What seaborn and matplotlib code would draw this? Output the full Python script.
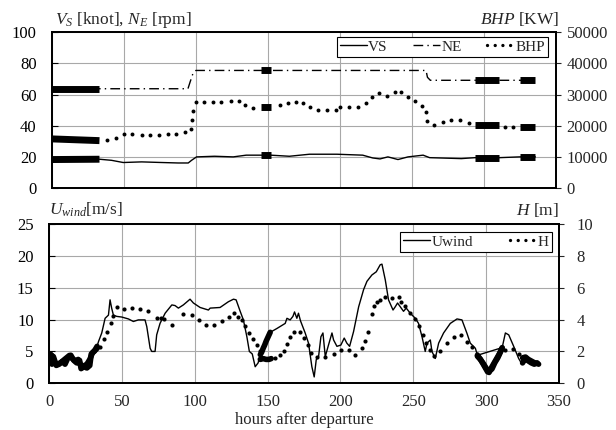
import matplotlib
matplotlib.use("Agg")
import matplotlib.pyplot as plt
from matplotlib.lines import Line2D
import seaborn as sns

# ---- upper panel: ship speed, engine rpm, brake power (hours after departure)
vs_t = [0, 33, 41.4, 49.5, 62.3, 76.2, 87.7, 94.7, 97, 100.5, 113, 126, 135, 145, 152,
        165, 179, 198, 216, 223, 228, 233.5, 240.5, 247.5, 258, 262.5, 284.5, 294, 311,
        325, 336]
vs_v = [18.4, 18.6, 17.9, 16.5, 16.9, 16.5, 16.2, 16.2, 17.9, 20.1, 20.5, 20.1, 21.2, 21.2,
        21.2, 20.5, 21.8, 21.8, 21.2, 19.4, 18.8, 20.1, 18.4, 20.1, 21.2, 19.6, 19.0, 19.6,
        19.6, 20.1, 20.1]

ne_t = [0, 33, 94.5, 96, 98, 100, 145, 152, 260, 261, 263, 294, 311, 325, 336]
ne_v = [63.7, 63.7, 63.7, 68, 73.5, 75.4, 75.4, 75.4, 75.4, 71, 69.1, 69.1, 69.1, 69.1, 69.1]

bhp_t = [38, 44.2, 49.8, 55.8, 62.3, 68.1, 74.3, 80.3, 86.1, 92.4, 96.3, 97.2, 98.1, 99.8,
         105.6, 111.6, 117.8, 124.1, 129.9, 134, 139.8, 158.3, 164.1, 169.4, 174.5, 179.2,
         185.2, 191.2, 197.2, 200, 206.5, 212.5, 218.1, 222.5, 227.3, 233.1, 238.7, 242.4,
         247.5, 252.5, 257.4, 259.7, 260.9, 265.5, 271.8, 277.5, 283.8, 289.8, 314.6, 320.4]
bhp_v = [15600, 16150, 17400, 17300, 17100, 17100, 16900, 17500, 17400, 17950, 19100, 22000,
         24800, 27750, 27750, 27500, 27500, 27900, 27900, 26600, 25550, 26600, 27250, 27550,
         27250, 25850, 25100, 25000, 25200, 25850, 26150, 26050, 27350, 29250, 30350, 29600,
         30750, 30750, 29250, 27900, 26300, 24350, 21450, 20400, 21150, 21700, 21700, 20950,
         19550, 19550]

# densely logged stretches (start/end hour, value at start/end)
dense_t0 = [0, 145, 294, 325]
dense_t1 = [33, 152, 311, 336]
vs_dense = [(18.4, 18.6), (21.2, 21.2), (19.6, 19.6), (20.1, 20.1)]
ne_dense = [(63.7, 63.7), (75.4, 75.4), (69.1, 69.1), (69.1, 69.1)]
bhp_dense = [(15800, 15250), (26050, 26050), (20100, 20100), (19650, 19650)]

# ---- lower panel: wind speed and wave height
u_t = [33, 33.9, 36.2, 38.5, 40.8, 41.9, 43.0, 44.2, 46.5, 49.9, 54.5, 57.9, 61.3, 65.9,
       67.1, 69.4, 70.5, 72.8, 73.9, 76.2, 79.7, 84.3, 86.5, 88.8, 92.2, 96.8, 99.1, 103.7,
       109.4, 110.6, 117.4, 123.1, 126.6, 128.4, 131.2, 133.4, 135.8, 137.5, 139.5, 141.5,
       143.5, 145, 151.8, 156.4, 162.1, 163.3, 165.5, 167.4, 168.5, 170.1, 171.2, 172.6,
       175.8, 178.1, 180.4, 182.0, 183.4, 185.0, 186.6, 188.0, 189.6, 191.8, 194.2, 195.3,
       197.6, 200.3, 202.6, 204.4, 206.3, 209.0, 212.5, 215.9, 218.2, 221.6, 224.6, 227.3,
       228.5, 230.8, 233.0, 236.1, 237.6, 239.2, 241.1, 243.3, 245.2, 247.9, 251.4, 253.6,
       256.0, 258.2, 259.4, 261.7, 262.8, 265.1, 267.4, 270.8, 275.4, 280.0, 283.4, 286.9,
       289.1, 292.6, 294, 311, 313.2, 315.5, 318.9, 322.3, 324.6, 325]
u_v = [5.8, 6.5, 7.9, 10.2, 10.7, 13.1, 11.8, 10.7, 10.5, 10.4, 10.1, 9.7, 9.95, 9.95,
       8.9, 5.5, 5.0, 5.0, 7.6, 9.4, 11.0, 12.3, 12.2, 11.8, 12.3, 13.2, 12.6, 11.9,
       11.5, 11.8, 11.9, 12.8, 13.2, 13.1, 11.3, 9.95, 7.3, 5.0, 4.6, 2.6,
       3.2, 4.5, 8.0, 8.6, 9.4, 10.2, 9.95, 10.5, 11.2, 10.2, 11.0, 9.8,
       7.9, 6.3, 2.6, 1.0, 3.7, 4.2, 7.3, 7.9, 4.2, 6.0, 7.9, 6.8,
       5.8, 6.0, 7.1, 6.3, 5.8, 8.1, 12.0, 14.7, 16.0, 17.0, 17.5, 18.6,
       18.7, 16.2, 13.1, 11.5, 12.0, 12.6, 12.0, 11.3, 11.8, 11.0, 10.2, 9.4,
       7.3, 5.0, 6.3, 6.8, 5.0, 3.9, 6.3, 7.9, 9.4, 10.1, 9.95, 7.8,
       6.3, 5.5, 4.4, 5.6, 7.9, 7.6, 5.8, 3.9, 3.0, 3.2]

h_t = [35.0, 38.0, 40.1, 42.3, 43.7, 46.5, 51.7, 56.8, 62.7, 68.2, 74.0, 76.9, 79.2, 84.3,
       92.2, 98.0, 102.6, 107.8, 113.3, 118.6, 123.2, 127.1, 130.0, 132.3, 134.6, 137.0,
       140.0, 142.5, 144.5, 155.2, 158.7, 161.0, 163.2, 165.5, 168.3, 172.5, 175.3, 177.7,
       179.9, 183.8, 189.6, 195.3, 200.5, 205.6, 210.2, 214.8, 217.1, 218.9, 221.6, 223.2,
       225.1, 227.3, 230.8, 235.4, 240.0, 241.8, 244.5, 247.9, 251.4, 253.7, 256.7, 258.9,
       261.7, 264.4, 268.5, 273.1, 277.7, 282.7, 286.9, 290.3, 293.7, 313.2, 318.5, 322.3]
h_v = [2.28, 2.76, 3.24, 3.76, 4.24, 4.76, 4.64, 4.72, 4.68, 4.56, 4.08, 4.08, 4.04, 3.68,
       4.32, 4.28, 3.98, 3.64, 3.64, 3.88, 4.16, 4.40, 4.16, 3.98, 3.60, 3.16,
       2.80, 2.40, 2.00, 1.57, 1.78, 2.00, 2.48, 2.92, 3.20, 3.22, 2.84, 2.40,
       1.92, 1.64, 1.68, 1.84, 2.08, 2.12, 1.80, 2.20, 2.68, 3.24, 4.32, 4.88,
       5.12, 5.20, 5.40, 5.36, 5.40, 5.08, 4.88, 4.44, 4.04, 3.60, 3.05, 2.50,
       2.10, 1.70, 2.00, 2.50, 2.90, 3.05, 2.60, 2.30, 1.85, 2.10, 2.15, 1.85]

# densely logged stretches of the lower panel
u_dense_t = [[0, 1, 2, 3, 5, 7, 9, 11, 13, 15, 17, 19, 21, 22, 24, 26, 28, 29, 31, 33],
             [145, 146, 147, 148, 149, 150, 151, 151.8],
             [294, 296, 298, 300, 301, 302, 303, 305, 307, 309, 311],
             [325, 327, 329, 331, 333, 335]]
u_dense_v = [[3.2, 4.6, 3.0, 4.2, 2.8, 3.0, 3.4, 3.0, 4.0, 4.4, 3.6, 3.2, 3.6, 2.3, 2.6, 2.4,
              2.8, 4.6, 5.0, 5.8],
             [4.5, 4.9, 5.5, 6.0, 6.6, 7.1, 7.6, 8.0],
             [4.4, 3.8, 3.0, 2.2, 1.8, 1.7, 2.2, 3.0, 3.8, 4.6, 5.6],
             [3.2, 4.0, 3.5, 3.2, 3.0, 3.2]]
h_dense_t = [[0, 2, 4, 6, 8, 10, 12, 14, 16, 18, 20, 22, 24, 26, 28, 30, 32, 33],
             [145, 147, 149, 151, 152.5],
             [294, 296, 298, 300, 302, 304, 306, 308, 310, 311],
             [325, 327, 329, 331, 333, 335, 336]]
h_dense_v = [[1.6, 1.75, 1.3, 1.2, 1.3, 1.45, 1.6, 1.75, 1.55, 1.4, 1.5, 1.1, 1.1, 1.2, 1.5,
              1.95, 2.1, 2.2],
             [1.5, 1.55, 1.5, 1.5, 1.55],
             [1.7, 1.5, 1.25, 0.95, 0.75, 0.9, 1.3, 1.6, 2.0, 2.2],
             [1.6, 1.65, 1.5, 1.4, 1.3, 1.25, 1.2]]

x_ticks = [0, 50, 100, 150, 200, 250, 300, 350]

# ---- style
sns.set_style("white")
plt.rcParams["font.family"] = ["Liberation Serif", "DejaVu Serif"]
plt.rcParams["mathtext.fontset"] = "custom"
plt.rcParams["mathtext.rm"] = "Liberation Serif"
plt.rcParams["mathtext.it"] = "Liberation Serif:italic"

W, H = 616, 430
fig = plt.figure(figsize=(W / 100, H / 100), dpi=100)
ax1 = fig.add_axes([52 / W, 1 - 188.3 / H, 503.5 / W, 156.3 / H])
ax1r = ax1.twinx()
ax2 = fig.add_axes([49 / W, 1 - 383.3 / H, 510 / W, 159.3 / H])
ax2r = ax2.twinx()

dashdot = (0, (7, 3, 1, 3))
dotted = (0, (0.01, 2.3))


def style_axes(ax, axr, yl, yr, ytl, ytr, rpad):
    ax.set_xlim(0, 350)
    ax.set_xticks(x_ticks)
    ax.set_ylim(*yl)
    ax.set_yticks(ytl)
    axr.set_ylim(*yr)
    axr.set_yticks(ytr)
    ax.grid(True, color="#a8a8a8", lw=0.8)
    ax.set_axisbelow(True)
    for a in (ax, axr):
        for s in a.spines.values():
            s.set_color("black")
            s.set_linewidth(1.3)
            s.set_visible(True)
        a.set_xlabel("")
        a.set_ylabel("")
    ax.tick_params(axis="y", direction="in", length=4, width=0.8, pad=11,
                   labelsize=12, colors="black", left=True)
    ax.tick_params(axis="x", length=0, pad=8, labelsize=12)
    axr.tick_params(axis="y", direction="out", length=3.5, width=0.8, pad=rpad,
                    labelsize=12, right=True)


def legend_box(axr, handles, labels, x0, x1, top, ncol):
    leg = axr.legend(handles, labels, loc="upper left", mode="expand",
                     bbox_to_anchor=(x0, top - 0.3, x1 - x0, 0.3), ncol=ncol,
                     fancybox=False, edgecolor="black", framealpha=1, fontsize=11,
                     handlelength=1.75, handletextpad=0.1, columnspacing=0.5,
                     borderpad=0.2, borderaxespad=0)
    leg.get_frame().set_linewidth(0.8)
    return leg


# upper panel
sns.lineplot(x=vs_t, y=vs_v, ax=ax1, color="black", lw=1.0, estimator=None, sort=False)
sns.lineplot(x=ne_t, y=ne_v, ax=ax1, color="black", lw=1.0, linestyle=dashdot,
             estimator=None, sort=False)
for t0, t1, v, n in zip(dense_t0, dense_t1, vs_dense, ne_dense):
    sns.lineplot(x=[t0, t1], y=list(v), ax=ax1, color="black", lw=5,
                 solid_capstyle="butt", estimator=None, sort=False)
    sns.lineplot(x=[t0, t1], y=list(n), ax=ax1, color="black", lw=5,
                 solid_capstyle="butt", estimator=None, sort=False)
sns.scatterplot(x=bhp_t, y=bhp_v, ax=ax1r, color="black", s=8, linewidth=0)
for t0, t1, b in zip(dense_t0, dense_t1, bhp_dense):
    sns.lineplot(x=[t0, t1], y=list(b), ax=ax1r, color="black", lw=5,
                 solid_capstyle="butt", estimator=None, sort=False)

style_axes(ax1, ax1r, (0, 100), (0, 50000), range(0, 101, 20), range(0, 50001, 10000), 4.5)
ax1.tick_params(axis="x", labelbottom=False)

h_top = [Line2D([], [], color="black", lw=1.0),
         Line2D([], [], color="black", lw=1.0, ls=dashdot),
         Line2D([], [], color="black", lw=2.4, ls=dotted, dash_capstyle="round")]
legend_box(ax1r, h_top, ["VS", "NE", "BHP"], (337 - 52) / 503.5, (548 - 52) / 503.5,
           1 - 5 / 156.3, 3)

# lower panel
sns.lineplot(x=u_t, y=u_v, ax=ax2, color="black", lw=1.0, estimator=None, sort=False)
for t, v in zip(u_dense_t, u_dense_v):
    sns.lineplot(x=t, y=v, ax=ax2, color="black", lw=4, estimator=None, sort=False)
sns.scatterplot(x=h_t, y=h_v, ax=ax2r, color="black", s=9, linewidth=0)
for t, v in zip(h_dense_t, h_dense_v):
    sns.lineplot(x=t, y=v, ax=ax2r, color="black", lw=4, estimator=None, sort=False)

style_axes(ax2, ax2r, (0, 25), (0, 10), range(0, 26, 5), range(0, 11, 2), 9)
ax2.set_xlabel("hours after departure", fontsize=12, labelpad=1)

h_bot = [Line2D([], [], color="black", lw=1.0),
         Line2D([], [], color="black", lw=2.4, ls=dotted, dash_capstyle="round")]
legend_box(ax2r, h_bot, ["Uwind", "H"], (400 - 49) / 510, (552 - 49) / 510,
           1 - 8 / 159.3, 2)

# axis titles
fig.text(55 / W, 1 - 23.5 / H, r"$V_S$ [knot], $N_E$ [rpm]", fontsize=12.5, va="baseline")
fig.text(559 / W, 1 - 23.5 / H, r"$BHP$ [KW]", fontsize=12.5, va="baseline", ha="right")
fig.text(49 / W, 1 - 215 / H, r"$U_{wind}$[m/s]", fontsize=12.5, va="baseline")
fig.text(559 / W, 1 - 215 / H, r"$H$ [m]", fontsize=12.5, va="baseline", ha="right")

fig.savefig("out.png", dpi=100)
